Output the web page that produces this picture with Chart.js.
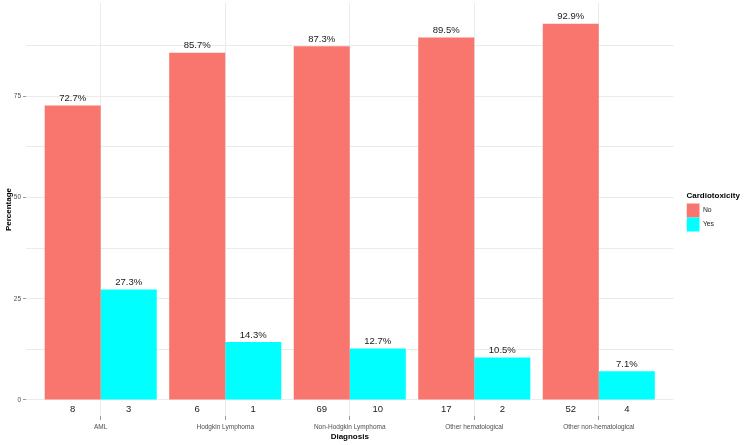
<!DOCTYPE html>
<html>
<head>
<meta charset="utf-8">
<script src="https://cdn.jsdelivr.net/npm/chart.js@4"></script>
<style>
  body { margin: 0; background: #fff; }
  canvas { display: block; }
</style>
</head>
<body>
<canvas id="chart" width="750" height="445"></canvas>
<script>
// data
const categories = ['AML', 'Hodgkin Lymphoma', 'Non-Hodgkin Lymphoma', 'Other hematological', 'Other non-hematological'];
const noPct = [72.7, 85.7, 87.3, 89.5, 92.9];
const yesPct = [27.3, 14.3, 12.7, 10.5, 7.1];
const noCount = [8, 6, 69, 17, 52];
const yesCount = [3, 1, 10, 2, 4];
const yTicks = [0, 12.5, 25, 37.5, 50, 62.5, 75, 87.5];

const FONT = "'Liberation Sans', Arial, sans-serif";

// percent above each bar, count under the axis
const barText = {
  id: 'barText',
  afterDatasetsDraw(chart) {
    const ctx = chart.ctx;
    const y0 = chart.scales.y.getPixelForValue(0);
    const counts = [noCount, yesCount];
    ctx.save();
    ctx.font = '9.5px ' + FONT;
    ctx.fillStyle = '#1a1a1a';
    ctx.textAlign = 'center';
    ctx.textBaseline = 'middle';
    chart.data.datasets.forEach((ds, d) => {
      chart.getDatasetMeta(d).data.forEach((bar, i) => {
        ctx.fillText(ds.data[i].y.toFixed(1) + '%', bar.x, bar.y - 7);
        ctx.fillText(String(counts[d][i]), bar.x, y0 + 9);
      });
    });
    ctx.restore();
  }
};

// legend box is only as wide as its items, the title needs more room
const legendWidth = {
  id: 'legendWidth',
  beforeLayout(chart) {
    const lg = chart.legend;
    if (lg && !lg._widened) {
      const fit = lg.fit;
      lg.fit = function () {
        fit.call(this);
        this.width = 62;
      };
      lg._widened = true;
    }
  }
};

new Chart(document.getElementById('chart'), {
  type: 'bar',
  data: {
    datasets: [
      {
        label: 'No',
        data: categories.map((c, i) => ({ x: i, y: noPct[i] })),
        backgroundColor: '#F8766D'
      },
      {
        label: 'Yes',
        data: categories.map((c, i) => ({ x: i, y: yesPct[i] })),
        backgroundColor: '#00FFFF'
      }
    ]
  },
  options: {
    responsive: false,
    animation: false,
    devicePixelRatio: 1,
    categoryPercentage: 0.9,
    barPercentage: 1.0,
    layout: { padding: { top: 3, right: 1.5, left: 0, bottom: 0 } },
    scales: {
      x: {
        type: 'linear',
        min: -0.6,
        max: 4.6,
        offset: false,
        afterBuildTicks: s => { s.ticks = categories.map((c, i) => ({ value: i })); },
        afterFit: s => { s.height = 29; },
        ticks: {
          callback: v => categories[v],
          color: '#4D4D4D',
          font: { family: FONT, size: 6.5 },
          padding: 3,
          maxRotation: 0,
          autoSkip: false
        },
        grid: { color: '#EBEBEB', offset: false, drawTicks: true, tickLength: 4, tickColor: '#999' },
        border: { display: false },
        title: {
          display: true,
          text: 'Diagnosis',
          color: '#000',
          font: { family: FONT, size: 8, weight: 'bold' },
          padding: { top: 0, bottom: 3 }
        }
      },
      y: {
        min: -3.95,
        max: 98,
        afterBuildTicks: s => { s.ticks = yTicks.map(v => ({ value: v })); },
        afterFit: s => { s.width = 26; s.paddingTop = 0; s.paddingBottom = 0; },
        ticks: {
          callback: v => (v % 25 === 0 ? v : ''),
          color: '#4D4D4D',
          font: { family: FONT, size: 6.5 },
          padding: 2
        },
        grid: {
          color: '#EBEBEB',
          drawTicks: true,
          tickLength: 3,
          tickColor: c => (c.tick && c.tick.value % 25 === 0 ? '#999' : 'rgba(0,0,0,0)')
        },
        border: { display: false },
        title: {
          display: true,
          text: 'Percentage',
          color: '#000',
          font: { family: FONT, size: 8, weight: 'bold' },
          padding: { top: 4, bottom: 0 }
        }
      },
      gap: {
        type: 'linear',
        position: 'right',
        display: true,
        afterFit: s => { s.width = 13; s.paddingTop = 0; s.paddingBottom = 0; },
        ticks: { display: false },
        grid: { display: false },
        border: { display: false }
      }
    },
    plugins: {
      legend: {
        position: 'right',
        align: 'start',
        title: {
          display: true,
          text: 'Cardiotoxicity',
          position: 'start',
          color: '#000',
          font: { family: FONT, size: 8, weight: 'bold' },
          padding: { top: 189, bottom: 2 }
        },
        labels: {
          boxWidth: 13,
          boxHeight: 14,
          padding: 0,
          color: '#1a1a1a',
          font: { family: FONT, size: 6.8 }
        }
      },
      tooltip: { enabled: false }
    }
  },
  plugins: [barText, legendWidth]
});
</script>
</body>
</html>
